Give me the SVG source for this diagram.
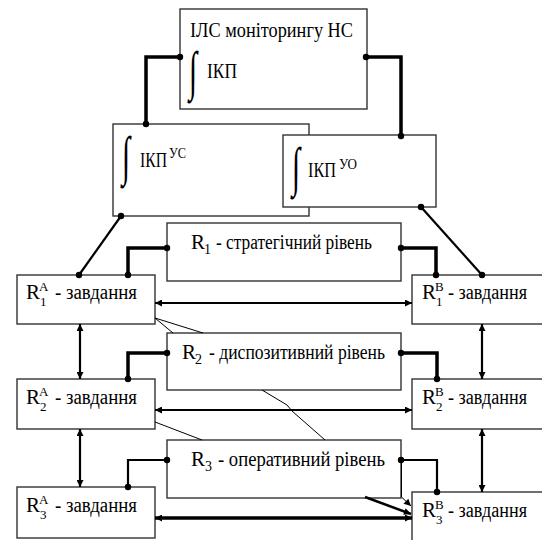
<svg xmlns="http://www.w3.org/2000/svg" width="542" height="540" viewBox="0 0 542 540">
<defs>
<style>
.box{fill:#fff;stroke:#333;stroke-width:1.4}
.t{font-family:"Liberation Serif","DejaVu Serif",serif;fill:#000}
.int{font-family:"Liberation Serif","DejaVu Serif",serif;fill:#000;font-size:54px}
.thick{fill:none;stroke:#000;stroke-width:3.5}
.med{fill:none;stroke:#000;stroke-width:2.2}
.thin{fill:none;stroke:#000;stroke-width:1}
.dot{fill:#000}
</style>
<marker id="ah" viewBox="0 0 10 10" refX="10" refY="5" markerWidth="9" markerHeight="7" markerUnits="userSpaceOnUse" orient="auto-start-reverse">
<path d="M0,0 L10,5 L0,10 z" fill="#000"/>
</marker>
</defs>

<g id="ils">
<rect class="box" x="180" y="9" width="187" height="100"/>
<text class="t" x="190" y="37" font-size="20" textLength="163" lengthAdjust="spacingAndGlyphs">ІЛС моніторингу НС</text>
<text class="int" transform="translate(189,89) scale(0.55,1)">∫</text>
<text class="t" x="207" y="78" font-size="21" textLength="30" lengthAdjust="spacingAndGlyphs">ІКП</text>
</g>

<g id="ikp-us">
<rect class="box" x="113" y="124" width="196" height="92"/>
<text class="int" transform="translate(122,174) scale(0.55,1)">∫</text>
<text class="t" x="140" y="167" font-size="21" textLength="27" lengthAdjust="spacingAndGlyphs">ІКП</text>
<text class="t" x="169" y="158" font-size="14" textLength="17" lengthAdjust="spacingAndGlyphs">УС</text>
</g>

<g id="ikp-uo">
<rect class="box" x="283" y="135" width="153" height="72"/>
<text class="int" transform="translate(292,185) scale(0.55,1)">∫</text>
<text class="t" x="308" y="177" font-size="21" textLength="28" lengthAdjust="spacingAndGlyphs">ІКП</text>
<text class="t" x="339" y="169" font-size="14" textLength="18" lengthAdjust="spacingAndGlyphs">УО</text>
</g>

<g id="r1">
<rect class="box" x="167" y="223" width="234" height="58"/>
<text class="t" x="191" y="249" font-size="21">R</text>
<text class="t" x="204" y="254" font-size="14">1</text>
<text class="t" x="216" y="249" font-size="20" textLength="156" lengthAdjust="spacingAndGlyphs">- стратегічний рівень</text>
</g>

<g id="r2">
<rect class="box" x="167" y="333" width="234" height="57"/>
<text class="t" x="182" y="359" font-size="21">R</text>
<text class="t" x="195" y="364" font-size="14">2</text>
<text class="t" x="209" y="359" font-size="20" textLength="176" lengthAdjust="spacingAndGlyphs">- диспозитивний рівень</text>
</g>

<g id="r3">
<rect class="box" x="167" y="440" width="234" height="58"/>
<text class="t" x="191" y="466" font-size="21">R</text>
<text class="t" x="205" y="471" font-size="14">3</text>
<text class="t" x="218" y="466" font-size="20" textLength="167" lengthAdjust="spacingAndGlyphs">- оперативний рівень</text>
</g>

<g id="r1a">
<rect class="box" x="17" y="275" width="138" height="49"/>
<text class="t" x="26" y="299" font-size="21">R</text>
<text class="t" x="39" y="291" font-size="13">A</text>
<text class="t" x="40" y="306" font-size="13">1</text>
<text class="t" x="55" y="299" font-size="20" textLength="82" lengthAdjust="spacingAndGlyphs">- завдання</text>
</g>

<g id="r2a">
<rect class="box" x="17" y="379" width="138" height="50"/>
<text class="t" x="26" y="404" font-size="21">R</text>
<text class="t" x="39" y="396" font-size="13">A</text>
<text class="t" x="40" y="411" font-size="13">2</text>
<text class="t" x="55" y="404" font-size="20" textLength="82" lengthAdjust="spacingAndGlyphs">- завдання</text>
</g>

<g id="r3a">
<rect class="box" x="17" y="487" width="138" height="51"/>
<text class="t" x="26" y="512" font-size="21">R</text>
<text class="t" x="39" y="504" font-size="13">A</text>
<text class="t" x="40" y="519" font-size="13">3</text>
<text class="t" x="55" y="512" font-size="20" textLength="82" lengthAdjust="spacingAndGlyphs">- завдання</text>
</g>

<g id="r1b">
<rect class="box" x="412" y="275" width="150" height="49"/>
<text class="t" x="422" y="299" font-size="21">R</text>
<text class="t" x="435" y="291" font-size="13">B</text>
<text class="t" x="436" y="306" font-size="13">1</text>
<text class="t" x="448" y="299" font-size="20" textLength="79" lengthAdjust="spacingAndGlyphs">- завдання</text>
</g>

<g id="r2b">
<rect class="box" x="412" y="379" width="150" height="50"/>
<text class="t" x="422" y="404" font-size="21">R</text>
<text class="t" x="435" y="396" font-size="13">B</text>
<text class="t" x="436" y="411" font-size="13">2</text>
<text class="t" x="448" y="404" font-size="20" textLength="79" lengthAdjust="spacingAndGlyphs">- завдання</text>
</g>

<g id="r3b">
<rect class="box" x="412" y="492" width="150" height="50"/>
<text class="t" x="422" y="517" font-size="21">R</text>
<text class="t" x="435" y="509" font-size="13">B</text>
<text class="t" x="436" y="524" font-size="13">3</text>
<text class="t" x="448" y="517" font-size="20" textLength="79" lengthAdjust="spacingAndGlyphs">- завдання</text>
</g>

<g id="connectors">
<path class="thick" d="M180,57 H146 V124"/>
<path class="thick" d="M366,57 H401 V136"/>
<line class="med" x1="121" y1="216" x2="79" y2="275"/>
<line class="med" x1="421" y1="207" x2="482" y2="275"/>
<path class="thick" d="M167,248 H128 V275"/>
<path class="thick" d="M401,248 H436 V275"/>
<path class="thick" d="M167,353 H128 V379"/>
<path class="thick" d="M401,353 H437 V379"/>
<path class="med" d="M167,460 H128 V487"/>
<path class="med" d="M401,460 H437 V492"/>
<line class="med" x1="155" y1="303" x2="412" y2="303" marker-start="url(#ah)" marker-end="url(#ah)"/>
<line class="med" x1="155" y1="410" x2="412" y2="410" marker-start="url(#ah)" marker-end="url(#ah)"/>
<line class="thick" x1="155" y1="518" x2="412" y2="518" marker-start="url(#ah)" marker-end="url(#ah)"/>
<line class="med" x1="80" y1="324" x2="80" y2="379" marker-start="url(#ah)" marker-end="url(#ah)"/>
<line class="med" x1="80" y1="429" x2="80" y2="487" marker-start="url(#ah)" marker-end="url(#ah)"/>
<line class="med" x1="482" y1="324" x2="482" y2="379" marker-start="url(#ah)" marker-end="url(#ah)"/>
<line class="med" x1="482" y1="429" x2="482" y2="492" marker-start="url(#ah)" marker-end="url(#ah)"/>
<line class="thin" x1="155" y1="318" x2="173" y2="333"/>
<line class="thin" x1="155" y1="318" x2="203" y2="333"/>
<path class="thin" d="M262,390 L287,405 L292,411 L325,440"/>
<line class="thin" x1="155" y1="422" x2="202" y2="440"/>
<path class="thin" d="M401.5,460 V497 L411,506" stroke-width="1.5" marker-end="url(#ah)"/>
<line x1="365" y1="497" x2="411" y2="514" stroke="#000" stroke-width="2.5" marker-end="url(#ah)"/>
<circle class="dot" cx="180" cy="57" r="3.2"/>
<circle class="dot" cx="366" cy="57" r="3.2"/>
<circle class="dot" cx="146" cy="124" r="3.2"/>
<circle class="dot" cx="401" cy="136" r="3.2"/>
<circle class="dot" cx="121" cy="216" r="3.2"/>
<circle class="dot" cx="421" cy="207" r="3.2"/>
<circle class="dot" cx="79" cy="275" r="3.2"/>
<circle class="dot" cx="482" cy="275" r="3.2"/>
<circle class="dot" cx="167" cy="248" r="3.2"/>
<circle class="dot" cx="401" cy="248" r="3.2"/>
<circle class="dot" cx="128" cy="275" r="3.2"/>
<circle class="dot" cx="436" cy="275" r="3.2"/>
<circle class="dot" cx="167" cy="353" r="3.2"/>
<circle class="dot" cx="401" cy="353" r="3.2"/>
<circle class="dot" cx="128" cy="379" r="3.2"/>
<circle class="dot" cx="437" cy="379" r="3.2"/>
<circle class="dot" cx="167" cy="460" r="3.2"/>
<circle class="dot" cx="401" cy="460" r="3.2"/>
<circle class="dot" cx="128" cy="487" r="3.2"/>
<circle class="dot" cx="437" cy="492" r="3.2"/>
</g>
</svg>
